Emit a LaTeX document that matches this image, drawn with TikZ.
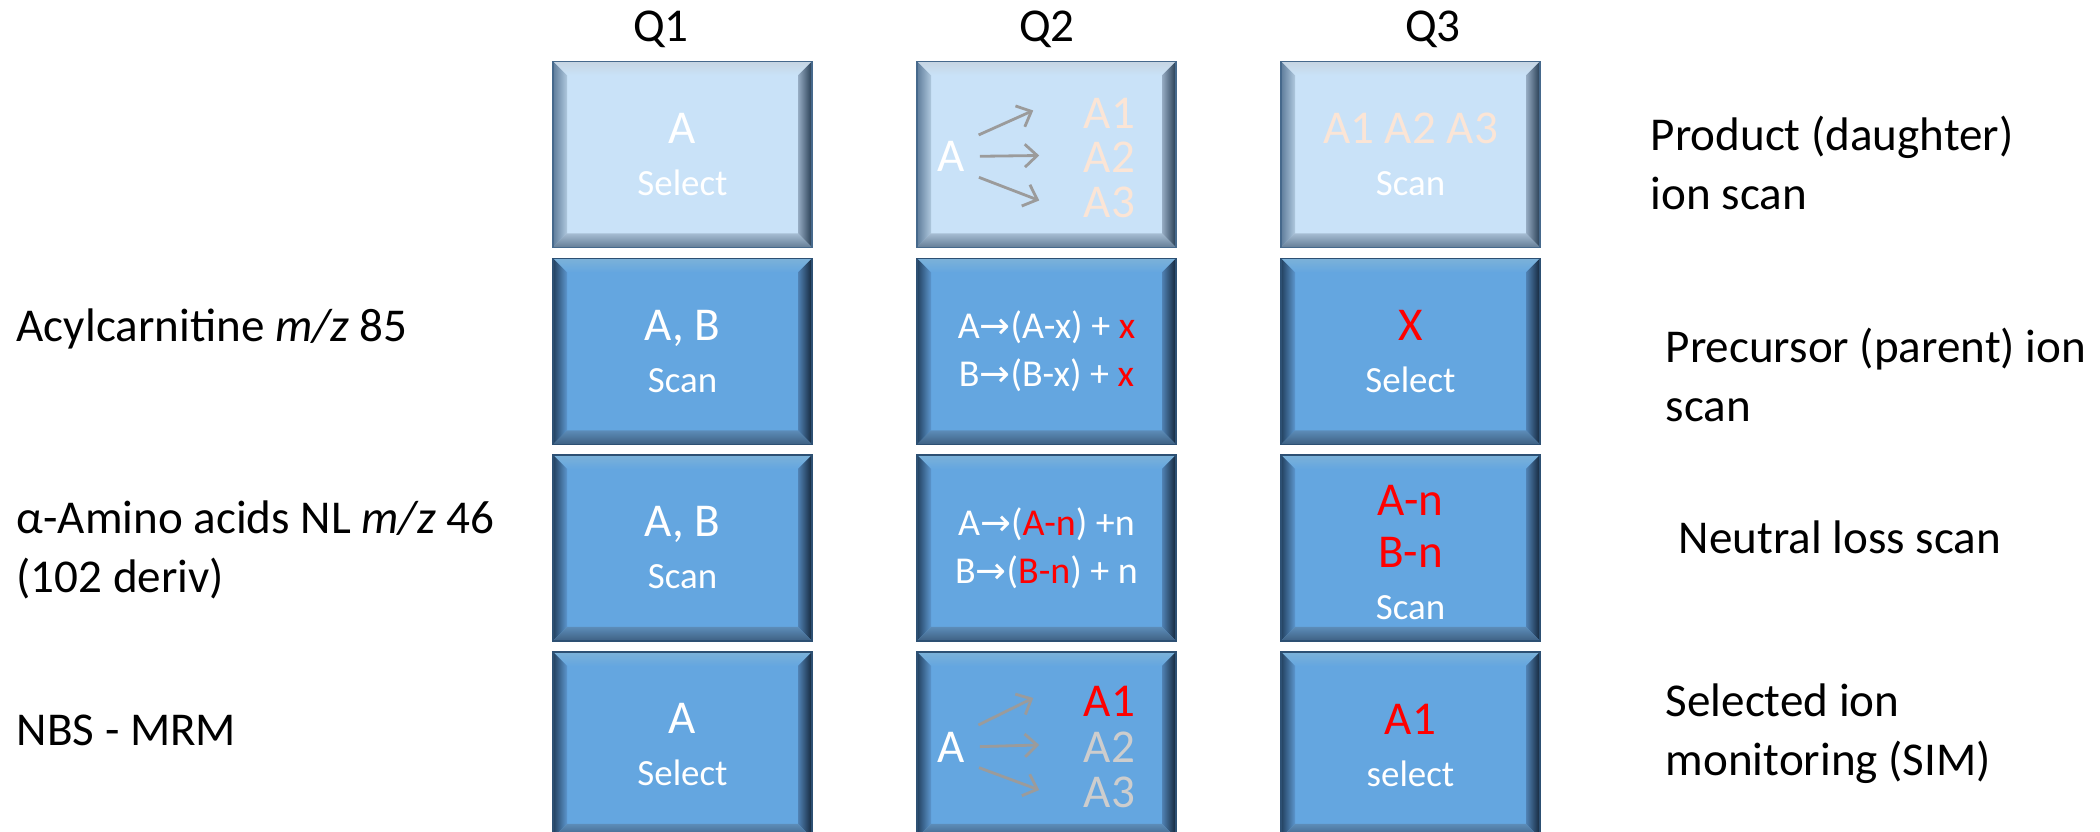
\documentclass[tikz,border=0pt]{standalone}
\usepackage{fontspec}
\setmainfont{Carlito}
\newfontfamily\arrowfont{DejaVu Sans}
\usetikzlibrary{arrows.meta, calc}

% light cells (top row)
\definecolor{paleface}{RGB}{201,226,248}
\definecolor{paletop}{RGB}{240,249,255}
\definecolor{paleedge}{RGB}{70,105,140}
\definecolor{paleleftout}{RGB}{95,125,155}
\definecolor{paleleftin}{RGB}{175,200,222}
\definecolor{palerightout}{RGB}{38,60,82}
\definecolor{palerightin}{RGB}{150,172,195}
\definecolor{palebotin}{RGB}{165,188,210}
\definecolor{palebotout}{RGB}{100,125,150}
% dark cells
\definecolor{deepface}{RGB}{100,166,224}
\definecolor{deeptop}{RGB}{150,210,250}
\definecolor{deepedge}{RGB}{45,80,115}
\definecolor{deepleftout}{RGB}{35,65,95}
\definecolor{deepleftin}{RGB}{92,150,206}
\definecolor{deeprightout}{RGB}{20,38,58}
\definecolor{deeprightin}{RGB}{80,130,180}
\definecolor{deepbotin}{RGB}{92,140,184}
\definecolor{deepbotout}{RGB}{62,96,130}
% text colours
\definecolor{peach}{RGB}{251,229,214}
\definecolor{dimgrey}{RGB}{205,205,205}
\definecolor{fangrey}{RGB}{155,155,155}

\newcommand{\bvw}{0.14}
\newcommand{\smallsz}{\fontsize{10.5}{14.8}\selectfont}
\newcommand{\rarr}{{\arrowfont\fontsize{10.5}{10}\selectfont →}}

\begin{document}
\begin{tikzpicture}[
    pale/.code={\colorlet{bvface}{paleface}\colorlet{bvtop}{paletop}\colorlet{bvedge}{paleedge}%
      \colorlet{bvlout}{paleleftout}\colorlet{bvlin}{paleleftin}\colorlet{bvrout}{palerightout}%
      \colorlet{bvrin}{palerightin}\colorlet{bvbin}{palebotin}\colorlet{bvbout}{palebotout}},
    deep/.code={\colorlet{bvface}{deepface}\colorlet{bvtop}{deeptop}\colorlet{bvedge}{deepedge}%
      \colorlet{bvlout}{deepleftout}\colorlet{bvlin}{deepleftin}\colorlet{bvrout}{deeprightout}%
      \colorlet{bvrin}{deeprightin}\colorlet{bvbin}{deepbotin}\colorlet{bvbout}{deepbotout}},
    qcell/.style={#1, minimum width=2.59cm, minimum height=1.86cm, inner sep=0pt,
      draw=bvedge, line width=0.5pt, fill=bvface, text=white, align=center,
      font=\fontsize{13.4}{14.8}\selectfont,
      path picture={
        \coordinate (bl) at (path picture bounding box.south west);
        \coordinate (tr) at (path picture bounding box.north east);
        \coordinate (tl) at (bl|-tr);
        \coordinate (br) at (tr|-bl);
        % bevel: top, left, right, bottom
        \shade[top color=bvtop!75!bvedge, middle color=bvtop, bottom color=bvface]
          (tl) -- (tr) -- ($(tr)+(-\bvw,-\bvw)$) -- ($(tl)+(\bvw,-\bvw)$) -- cycle;
        \shade[left color=bvlout, right color=bvlin]
          (tl) -- ($(tl)+(\bvw,-\bvw)$) -- ($(bl)+(\bvw,\bvw)$) -- (bl) -- cycle;
        \shade[left color=bvrin, right color=bvrout]
          (tr) -- (br) -- ($(br)+(-\bvw,\bvw)$) -- ($(tr)+(-\bvw,-\bvw)$) -- cycle;
        \shade[top color=bvbin, bottom color=bvbout]
          (bl) -- (br) -- ($(br)+(-\bvw,\bvw)$) -- ($(bl)+(\bvw,\bvw)$) -- cycle;
      }},
    head/.style={font=\fontsize{13.4}{16.8}\selectfont, inner sep=0pt},
    side/.style={anchor=west, align=left, inner sep=0pt, font=\fontsize{13.4}{16.8}\selectfont},
    ion/.style={inner sep=0pt, text=white, font=\fontsize{13.4}{14.8}\selectfont},
    react/.style={font=\fontsize{10.8}{13.6}\selectfont},
    fan/.style={draw=fangrey, line width=0.8pt, -{Straight Barb[length=3.5pt,width=6.5pt]},
      shorten <=4pt},
]
    \useasboundingbox (0,0) rectangle (21,-8.32);

    % Column heads
    \node[head] (h1) at (6.61,-0.29) {Q1};
    \node[head] (h2) at (10.47,-0.29) {Q2};
    \node[head] (h3) at (14.33,-0.29) {Q3};

    % Row 1
    \node[qcell=pale] (q1a) at (6.825,-1.545) {A\\{\smallsz Select}};
    \node[qcell=pale] (q2a) at (10.465,-1.545) {};
    \node[qcell=pale] (q3a) at (14.105,-1.545) {{\color{peach}A1 A2 A3}\\{\smallsz Scan}};
    \node[ion] (a0) at ($(q2a)+(-0.95,-0.02)$) {A};
    \node[ion, text=peach] (a1) at ($(q2a)+(0.63,0.41)$) {A1};
    \node[ion, text=peach] (a2) at ($(q2a)+(0.63,-0.03)$) {A2};
    \node[ion, text=peach] (a3) at ($(q2a)+(0.63,-0.48)$) {A3};
    \draw[fan] (a0.north east) -- ($(a1.west)+(-0.5,0.03)$);
    \draw[fan] (a0.east) -- ($(a2.west)+(-0.44,0.02)$);
    \draw[fan] (a0.south east) -- ($(a3.west)+(-0.44,0.02)$);

    % Row 2
    \node[qcell=deep] (q1b) at (6.825,-3.515) {A, B\\{\smallsz Scan}};
    \node[qcell=deep, react] (q2b) at (10.465,-3.515)
      {A\rarr(A-x) + \textcolor{red}{x}\\B\rarr(B-x) + \textcolor{red}{x}};
    \node[qcell=deep] (q3b) at (14.105,-3.515) {{\color{red}X}\\{\smallsz Select}};

    % Row 3
    \node[qcell=deep] (q1c) at (6.825,-5.48) {A, B\\{\smallsz Scan}};
    \node[qcell=deep, react] (q2c) at (10.465,-5.48)
      {A\rarr(\textcolor{red}{A-n}) +n\\B\rarr(\textcolor{red}{B-n}) + n};
    \node[qcell=deep] (q3c) at (14.105,-5.48) {};
    \node[text=white, align=center, inner sep=0pt, font=\fontsize{13.4}{14.8}\selectfont] (nl) at ($(q3c)+(0,-0.05)$)
      {{\color{red}A-n}\\{\color{red}B-n}\\{\smallsz Scan}};

    % Row 4
    \node[qcell=deep] (q1d) at (6.825,-7.45) {A\\{\smallsz Select}};
    \node[qcell=deep] (q2d) at (10.465,-7.45) {};
    \node[qcell=deep] (q3d) at (14.105,-7.45) {{\color{red}A1}\\{\smallsz select}};
    \node[ion] (b0) at ($(q2d)+(-0.95,-0.02)$) {A};
    \node[ion, text=red] (b1) at ($(q2d)+(0.63,0.44)$) {A1};
    \node[ion, text=dimgrey] (b2) at ($(q2d)+(0.63,-0.02)$) {A2};
    \node[ion, text=dimgrey] (b3) at ($(q2d)+(0.63,-0.47)$) {A3};
    \draw[fan] (b0.north east) -- ($(b1.west)+(-0.5,0.03)$);
    \draw[fan] (b0.east) -- ($(b2.west)+(-0.44,0.02)$);
    \draw[fan] (b0.south east) -- ($(b3.west)+(-0.44,0.02)$);

    % Left labels
    \node[side] (acyl) at (0.16,-3.29) {Acylcarnitine \textit{m/z} 85};
    \node[side] (amino) at (0.16,-5.50) {α-Amino acids NL \textit{m/z} 46\\(102 deriv)};
    \node[side] (nbs) at (0.16,-7.30) {NBS - MRM};

    % Right labels
    \node[side] (prod) at (16.50,-1.63) {Product (daughter)\\ion scan};
    \node[side] (prec) at (16.65,-3.75) {Precursor (parent) ion\\scan};
    \node[side] (neut) at (16.78,-5.37) {Neutral loss scan};
    \node[side] (sim) at (16.65,-7.34) {Selected ion\\monitoring (SIM)};
\end{tikzpicture}
\end{document}
